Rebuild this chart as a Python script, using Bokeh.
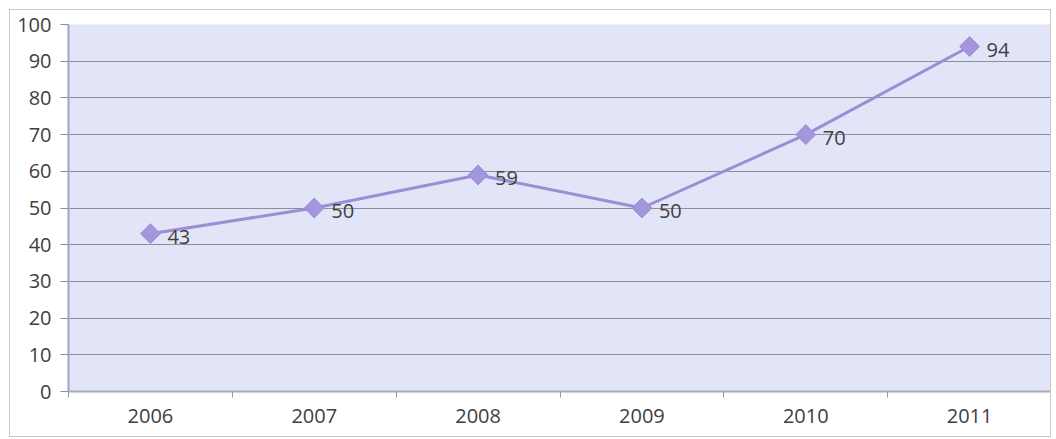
import math
from bokeh.plotting import figure
from bokeh.models import Range1d, FixedTicker, SingleIntervalTicker, ColumnDataSource, LabelSet
from bokeh.core.properties import value
from bokeh.embed import file_html
from bokeh.resources import INLINE

years = ["2006", "2007", "2008", "2009", "2010", "2011"]
values = [43, 50, 59, 50, 70, 94]
y_ticks_interval = 10

xs = [i + 0.5 for i in range(len(years))]
src = ColumnDataSource(dict(x=xs, y=values, lab=[str(v) for v in values]))

FONT = "Open Sans"
TXT = "#404040"

p = figure(width=1042, height=428, output_backend="svg", toolbar_location=None,
           x_range=Range1d(0, len(years)), y_range=Range1d(0, 100),
           min_border_left=58, min_border_right=1, min_border_top=14, min_border_bottom=47)
p.styles = {"border": "1px solid #c8c8c8", "margin-left": "9px", "margin-top": "9px"}
p.background_fill_color = "#e2e4f8"
p.border_fill_color = "white"
p.outline_line_color = None

p.xgrid.grid_line_color = None
p.ygrid.grid_line_color = "#8e8e96"
p.ygrid.grid_line_width = 1
p.ygrid.ticker = SingleIntervalTicker(interval=y_ticks_interval)

p.line("x", "y", source=src, line_color="#9a8ed4", line_width=3)
p.scatter("x", "y", source=src, marker="square", size=14, angle=math.pi / 4,
          fill_color="#a396dc", line_color="#9a8ed4", line_width=1)

labels = LabelSet(x="x", y="y", text="lab", source=src, x_offset=17, y_offset=-3,
                  text_align="left", text_baseline="middle",
                  text_font=value(FONT), text_font_size="20px", text_color=TXT)
p.add_layout(labels)

xa = p.xaxis[0]
xa.ticker = FixedTicker(ticks=xs, minor_ticks=list(range(len(years) + 1)))
xa.major_label_overrides = {x: y for x, y in zip(xs, years)}
xa.major_tick_line_color = None
xa.major_tick_out = 0
xa.major_tick_in = 0
xa.minor_tick_line_color = "#9a9a9a"
xa.minor_tick_out = 6
xa.minor_tick_in = 0
xa.axis_line_color = "#a8a8b8"
xa.axis_line_width = 2
xa.major_label_standoff = 11
xa.major_label_text_font = FONT
xa.major_label_text_font_size = "20px"
xa.major_label_text_color = TXT

ya = p.yaxis[0]
ya.ticker = SingleIntervalTicker(interval=y_ticks_interval)
ya.major_tick_line_color = "#8e8e96"
ya.major_tick_out = 8
ya.major_tick_in = 0
ya.minor_tick_line_color = None
ya.axis_line_color = "#a0a4c4"
ya.axis_line_width = 2
ya.major_label_standoff = 9
ya.major_label_text_font = FONT
ya.major_label_text_font_size = "20px"
ya.major_label_text_color = TXT

open("out.html", "w").write(file_html(p, INLINE))
